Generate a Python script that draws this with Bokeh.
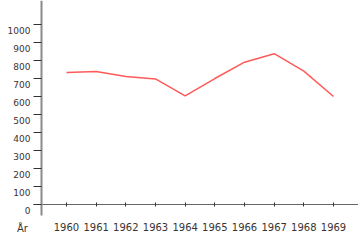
from bokeh.plotting import figure
from bokeh.models import LinearAxis, Range1d, FixedTicker, Label
from bokeh.embed import file_html
from bokeh.resources import INLINE

years = [1960, 1961, 1962, 1963, 1964, 1965, 1966, 1967, 1968, 1969]
values = [735, 740, 712, 699, 605, 701, 792, 839, 742, 601]
y_ticks = [0, 100, 200, 300, 400, 500, 600, 700, 800, 900, 1000]
x_title = "År"

FONT = "DejaVu Sans"
TXT = "#3a3333"

X0, X1 = 1957.776, 1969.842
Y0, Y1 = -256.0, 1135.2
YAXIS_AT = 1959.157

p = figure(width=358, height=250, output_backend="svg", toolbar_location=None,
           x_range=Range1d(X0, X1), y_range=Range1d(Y0, Y1),
           x_axis_type=None, y_axis_type=None,
           min_border_left=0, min_border_right=0, min_border_top=0, min_border_bottom=0)
p.outline_line_color = None
p.grid.visible = False
p.background_fill_color = "white"

shift = 33.5
p.extra_y_ranges = {"ylab": Range1d(Y0 + shift, Y1 + shift)}

# y axis: line + ticks only
yax = LinearAxis(ticker=FixedTicker(ticks=y_ticks), fixed_location=YAXIS_AT,
                 bounds=(-61, Y1))
yax.axis_line_color = "#8a8a8a"
yax.axis_line_width = 2
yax.major_tick_out = 8
yax.major_tick_in = 0
yax.major_tick_line_color = "#333333"
yax.minor_tick_line_color = None
yax.major_label_overrides = {t: "" for t in y_ticks}
p.add_layout(yax, "left")

# y labels axis (labels sit slightly below the ticks, as in the original)
ylab = LinearAxis(y_range_name="ylab", ticker=FixedTicker(ticks=y_ticks),
                  fixed_location=YAXIS_AT)
ylab.axis_line_color = None
ylab.major_tick_line_color = None
ylab.minor_tick_line_color = None
ylab.major_tick_out = 0
ylab.major_tick_in = 0
ylab.major_label_standoff = 11
ylab.major_label_text_font = FONT
ylab.major_label_text_font_size = "9px"
ylab.major_label_text_color = TXT
p.add_layout(ylab, "left")

# x axis at y = 0
xax = LinearAxis(ticker=FixedTicker(ticks=years), fixed_location=0,
                 bounds=(1958.9, X1))
xax.axis_line_color = "#666666"
xax.axis_line_width = 1
xax.major_tick_in = 2
xax.major_tick_out = 2
xax.major_tick_line_color = "#333333"
xax.minor_tick_line_color = None
xax.major_label_standoff = 17
xax.major_label_text_font = FONT
xax.major_label_text_font_size = "10px"
xax.major_label_text_color = TXT
p.add_layout(xax, "below")

p.line(years, values, line_color="#ff5a5a", line_width=1.5)

p.add_layout(Label(x=1958.517, y=-133.6, text=x_title, text_font=FONT,
                   text_font_size="10px", text_color=TXT,
                   text_align="center", text_baseline="middle"))

open("out.html", "w").write(file_html(p, INLINE))
